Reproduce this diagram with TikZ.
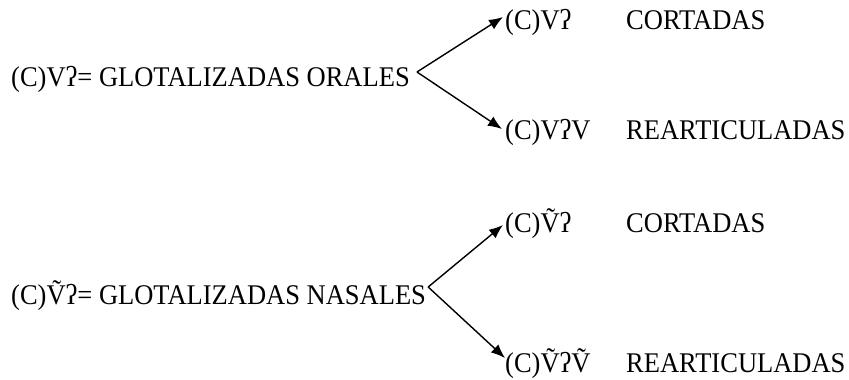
\documentclass[tikz,border=0pt]{standalone}
\usepackage{fontspec}
\setmainfont[FakeStretch=0.93]{Liberation Serif}
\usetikzlibrary{arrows.meta}
\begin{document}
\begin{tikzpicture}[x=1pt,y=-1pt,
  lbl/.style={inner sep=0pt,anchor=base west,font=\fontsize{28.5}{32}\selectfont},
  arr/.style={line width=1.4pt,-{Latex[length=14pt,width=11pt]}}]
\useasboundingbox (0,0) rectangle (849,380);
% group 1
\node[lbl] (left1) at (11,86) {(C)Vʔ= GLOTALIZADAS ORALES};
\node[lbl] (up1) at (505,29) {(C)Vʔ};
\node[lbl] (cort1) at (626,29) {CORTADAS};
\node[lbl] (down1) at (505,139) {(C)VʔV};
\node[lbl] (rear1) at (626,139) {REARTICULADAS};
\coordinate (j1) at ([xshift=7pt,yshift=14pt]left1.base east);
\draw[arr] (j1) -- ([xshift=-2pt,yshift=12pt]up1.base west);
\draw[arr] (j1) -- ([xshift=-3pt,yshift=10pt]down1.base west);
% group 2
\node[lbl] (left2) at (11,304) {(C)Ṽʔ= GLOTALIZADAS NASALES};
\node[lbl] (up2) at (505,232) {(C)Ṽʔ};
\node[lbl] (cort2) at (626,232) {CORTADAS};
\node[lbl] (down2) at (505,372) {(C)ṼʔṼ};
\node[lbl] (rear2) at (626,372) {REARTICULADAS};
\coordinate (j2) at ([xshift=2pt,yshift=17pt]left2.base east);
\draw[arr] (j2) -- ([xshift=-2pt,yshift=7pt]up2.base west);
\draw[arr] (j2) -- ([xshift=0pt,yshift=14pt]down2.base west);
\end{tikzpicture}
\end{document}
